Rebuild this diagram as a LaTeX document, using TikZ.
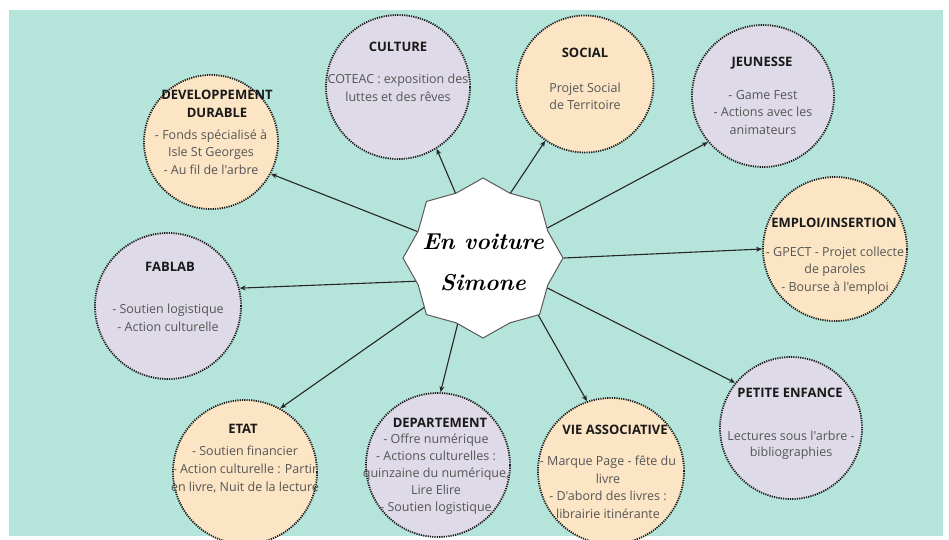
\documentclass[tikz,border=0pt]{standalone}
\usepackage{fontspec}
\newfontfamily\osans{Open Sans}
\usetikzlibrary{shapes.geometric,arrows.meta}
\definecolor{tealc}{HTML}{B5E4DB}
\definecolor{lavc}{HTML}{DFDAE7}
\definecolor{peachc}{HTML}{FCE5C4}
\definecolor{bodyc}{HTML}{555555}
\begin{document}
\begin{tikzpicture}[x=1pt,y=-1pt,
  bub/.style={circle, draw=black!90, line width=1.8pt, dash pattern=on 1.2pt off 1.1pt, inner sep=0pt},
  lav/.style={fill=lavc}, pch/.style={fill=peachc},
  ttl/.style={font=\osans\bfseries\fontsize{13}{18}\selectfont, text=black!90, align=center, inner sep=0pt},
  bod/.style={font=\osans\fontsize{12.5}{17.5}\selectfont, text=bodyc, align=center, inner sep=0pt},
  arr/.style={draw=black!85, line width=1.1pt, -{Stealth[length=6pt,width=5pt]}}]
\useasboundingbox (0,0) rectangle (949,539);
\fill[white] (0,0) rectangle (949,539);
\fill[tealc] (9,10) rectangle (943,536);

% bubbles
\node[bub,pch,minimum size=134pt] (dd) at (211,142) {};
\node[bub,lav,minimum size=144pt] (cul) at (398,87) {};
\node[bub,pch,minimum size=137pt] (soc) at (585,84) {};
\node[bub,lav,minimum size=142pt] (jeu) at (763,96) {};
\node[bub,pch,minimum size=144pt] (emp) at (835,249) {};
\node[bub,lav,minimum size=146pt] (fab) at (168,306) {};
\node[bub,lav,minimum size=142pt] (pet) at (791,428) {};
\node[bub,pch,minimum size=144pt] (eta) at (245,472) {};
\node[bub,lav,minimum size=144pt] (dep) at (438,465) {};
\node[bub,pch,minimum size=146pt] (vie) at (611,471) {};

% centre star
\node[star, star points=8, star point ratio=1.14, minimum size=160pt, inner sep=0pt,
      draw=black!65, line width=1pt, fill=white] (star) at (483,258) {};
\node[font=\fontsize{23}{41}\selectfont\bfseries\itshape, align=center, inner sep=0pt] (startxt) at (483,262) {En voiture\\Simone};

% connectors
\draw[arr] (star.158) -- (dd.-28);
\draw[arr] (star.113) -- (cul.-58);
\draw[arr] (star.67) -- (soc.235);
\draw[arr] (star.25) -- (jeu.220);
\draw[arr] (star.0) -- (emp.180);
\draw[arr] (star.199) -- (fab.14);
\draw[arr] (star.-25) -- (pet.141);
\draw[arr] (star.220) -- (eta.61);
\draw[arr] (star.249) -- (dep.88);
\draw[arr] (star.-46) -- (vie.109);

% texts
\node[ttl] (ddt) at (217,104) {DEVELOPPEMENT\\DURABLE};
\node[bod] (ddb) at (211,152) {- Fonds spécialisé à\\Isle St Georges\\- Au fil de l'arbre};

\node[ttl] (cult) at (398,47) {CULTURE};
\node[bod] (culb) at (398,88) {COTEAC : exposition des\\luttes et des rêves};

\node[ttl] (soct) at (585,53) {SOCIAL};
\node[bod,font=\osans\fontsize{12.5}{16.5}\selectfont] (socb) at (585,96.5) {Projet Social\\de Territoire};

\node[ttl] (jeut) at (762,63) {JEUNESSE};
\node[bod] (jeub) at (763,112.5) {- Game Fest\\- Actions avec les\\animateurs};

\node[ttl] (empt) at (834,223) {EMPLOI/INSERTION};
\node[bod] (empb) at (835,270.5) {- GPECT - Projet collecte\\de paroles\\- Bourse à l'emploi};

\node[ttl] (fabt) at (170,267) {FABLAB};
\node[bod] (fabb) at (168,318) {- Soutien logistique\\- Action culturelle};

\node[ttl] (pett) at (790,393) {PETITE ENFANCE};
\node[bod,font=\osans\fontsize{12.5}{16.5}\selectfont] (petb) at (791,445) {Lectures sous l'arbre -\\bibliographies};

\node[ttl] (etat) at (243,429) {ETAT};
\node[bod,font=\osans\fontsize{12.5}{18}\selectfont] (etab) at (245,470) {- Soutien financier\\- Action culturelle : Partir\\en livre, Nuit de la lecture};

\node[ttl] (dept) at (440,423) {DEPARTEMENT};
\node[bod,font=\osans\fontsize{12.5}{17}\selectfont] (depb) at (436,474) {- Offre numérique\\- Actions culturelles :\\quinzaine du numérique,\\Lire Elire\\- Soutien logistique};

\node[ttl] (viet) at (615,430) {VIE ASSOCIATIVE};
\node[bod] (vieb) at (608,487.5) {- Marque Page - fête du\\livre\\- D'abord des livres :\\librairie itinérante};
\end{tikzpicture}
\end{document}
